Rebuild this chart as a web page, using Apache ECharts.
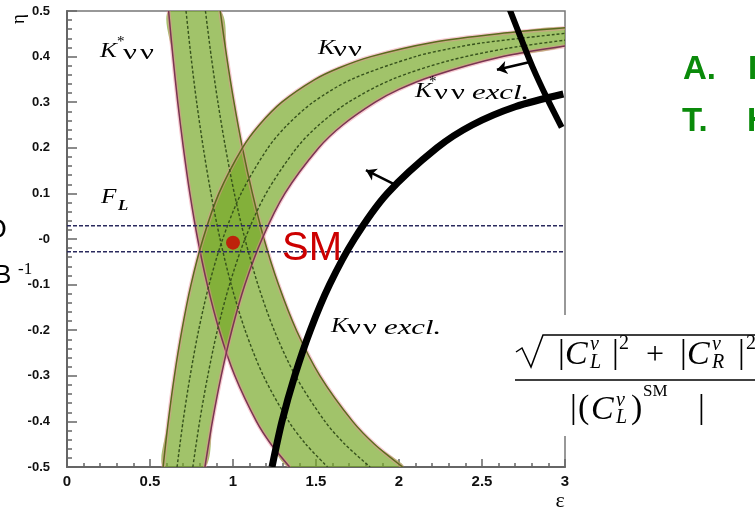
<!DOCTYPE html>
<html>
<head>
<meta charset="utf-8">
<script src="https://cdn.jsdelivr.net/npm/echarts/dist/echarts.min.js"></script>
<style>
  html, body { margin: 0; padding: 0; background: #fff; }
  #chart { width: 755px; height: 510px; }
</style>
</head>
<body>
<div id="chart"></div>
<script>
// ---- data: (epsilon, eta) points ----
// B -> K* nu nu band: outer edges and inner dashed contours
const kstarLeft = [[0.612,0.5],[0.638,0.4],[0.667,0.3],[0.701,0.2],[0.740,0.1],[0.787,0],[0.845,-0.1],[0.917,-0.2],[1.011,-0.3],[1.141,-0.4],[1.229,-0.45],[1.341,-0.5]];
const kstarIn1  = [[0.717,0.5],[0.747,0.4],[0.781,0.3],[0.821,0.2],[0.867,0.1],[0.922,0],[0.989,-0.1],[1.073,-0.2],[1.183,-0.3],[1.336,-0.4],[1.439,-0.45],[1.570,-0.5]];
const kstarIn2  = [[0.834,0.5],[0.869,0.4],[0.909,0.3],[0.955,0.2],[1.008,0.1],[1.072,0],[1.150,-0.1],[1.248,-0.2],[1.376,-0.3],[1.554,-0.4],[1.674,-0.45],[1.826,-0.5]];
const kstarRight= [[0.923,0.5],[0.962,0.4],[1.006,0.3],[1.057,0.2],[1.117,0.1],[1.187,0],[1.274,-0.1],[1.382,-0.2],[1.524,-0.3],[1.721,-0.4],[1.853,-0.45],[2.022,-0.5]];

// B -> K nu nu band
const knnLeft  = [[0.579,-0.5],[0.610,-0.4],[0.647,-0.3],[0.692,-0.2],[0.747,-0.1],[0.819,0],[0.915,0.1],[1.057,0.2],[1.158,0.25],[1.294,0.3],[1.494,0.35],[1.637,0.375],[1.830,0.4],[2.2,0.431],[2.6,0.450],[3.0,0.463]];
const knnIn1   = [[0.663,-0.5],[0.699,-0.4],[0.742,-0.3],[0.793,-0.2],[0.856,-0.1],[0.938,0],[1.049,0.1],[1.211,0.2],[1.327,0.25],[1.483,0.3],[1.713,0.35],[2.098,0.4],[2.3,0.417],[2.5,0.430],[3.0,0.451]];
const knnIn2   = [[0.758,-0.5],[0.799,-0.4],[0.848,-0.3],[0.906,-0.2],[0.979,-0.1],[1.072,0],[1.199,0.1],[1.384,0.2],[1.517,0.25],[1.696,0.3],[1.958,0.35],[2.3,0.391],[2.65,0.418],[3.0,0.436]];
const knnRight = [[0.831,-0.5],[0.876,-0.4],[0.929,-0.3],[0.993,-0.2],[1.072,-0.1],[1.175,0],[1.313,0.1],[1.517,0.2],[1.661,0.25],[1.857,0.3],[2.0,0.328],[2.2,0.357],[2.6,0.398],[3.0,0.423]];

// F_L allowed strip in eta
const flUpper = 0.029;
const flLower = -0.028;

// exclusion bounds
const kExclusion     = [[1.235,-0.5],[1.295,-0.4],[1.372,-0.3],[1.466,-0.2],[1.582,-0.1],[1.731,0],[1.930,0.1],[2.229,0.2],[2.441,0.25],[2.70,0.29],[2.99,0.318]];
const kstarExclusion = [[2.665,0.505],[2.735,0.44],[2.805,0.377],[2.89,0.31],[2.98,0.245]];

// arrows pointing to the allowed side: [from, to]
const arrowKstar = [[2.789,0.388],[2.590,0.371]];
const arrowK     = [[1.994,0.116],[1.801,0.151]];

// Standard Model point
const smPoint = [1.0, -0.008];

// ---- styles ----
const bandFill   = 'rgba(116,167,36,0.68)';
const edgeOlive  = '#5a6a1c';
const edgeMaroon = '#7a3452';
const haloPink   = 'rgba(238,140,155,0.45)';
const dashGreen  = '#36521c';

function curve(points, style, z) {
  return {
    type: 'custom', coordinateSystem: 'cartesian2d', clip: true, silent: true, z: z,
    data: [points[0]],
    renderItem: (params, api) => ({
      type: 'polyline',
      shape: { points: points.map(p => api.coord(p)), smooth: 0.3 },
      style: Object.assign({ fill: null }, style)
    })
  };
}
function band(edgeA, edgeB, z) {
  const outline = edgeA.concat(edgeB.slice().reverse());
  return {
    type: 'custom', coordinateSystem: 'cartesian2d', clip: true, silent: true, z: z,
    data: [outline[0]],
    renderItem: (params, api) => ({
      type: 'polygon',
      shape: { points: outline.map(p => api.coord(p)), smooth: 0.3 },
      style: { fill: bandFill, stroke: null }
    })
  };
}
function edge(points, color, z) {
  return [
    curve(points, { stroke: haloPink, lineWidth: 4 }, z),
    curve(points, { stroke: color, lineWidth: 1.5 }, z)
  ];
}
function dashed(points, z) {
  return curve(points, { stroke: dashGreen, lineWidth: 1.4, lineDash: [3, 2] }, z);
}

// ---- text helpers (pixel placement of annotations) ----
const serif = '"Liberation Serif", "Times New Roman", serif';
const sans = '"Liberation Sans", Arial, sans-serif';
function txt(x, y, s, font, color, align, vAlign, rot, sx) {
  return {
    type: 'text', x: x, y: y, z: 100, rotation: rot || 0, scaleX: sx || 1, silent: true,
    style: {
      text: s, font: font, fill: color || '#000',
      textAlign: align || 'left', textVerticalAlign: vAlign || 'middle',
      align: align || 'left', verticalAlign: vAlign || 'middle'
    }
  };
}
function pline(points, width, color) {
  return { type: 'polyline', z: 100, silent: true, shape: { points: points },
           style: { stroke: color || '#000', lineWidth: width, fill: null } };
}

const kFont = 'italic 22px ' + serif;
const nuFont = '22px ' + serif;
const starFont = '15px ' + serif;
const exclFont = 'italic 22px ' + serif;
const W = 1.4; // horizontal stretch of the label lettering

const graphics = [
  // band labels
  txt(100, 51, 'K', kFont, '#000', 'left', 'middle', 0, 1.15), txt(117, 42, '*', starFont),
  txt(123, 53, 'ν', nuFont, '#000', 'left', 'middle', 0, W), txt(140, 53, 'ν', nuFont, '#000', 'left', 'middle', 0, W),
  txt(318, 48, 'K', kFont, '#000', 'left', 'middle', 0, 1.15),
  txt(333, 50, 'ν', nuFont, '#000', 'left', 'middle', 0, W), txt(348, 50, 'ν', nuFont, '#000', 'left', 'middle', 0, W),
  txt(415, 91, 'K', kFont, '#000', 'left', 'middle', 0, 1.15), txt(429, 82, '*', starFont),
  txt(434, 93, 'ν', nuFont, '#000', 'left', 'middle', 0, W), txt(451, 93, 'ν', nuFont, '#000', 'left', 'middle', 0, W),
  txt(472, 93, 'excl.', exclFont, '#000', 'left', 'middle', 0, W),
  txt(331, 326, 'K', kFont, '#000', 'left', 'middle', 0, 1.15),
  txt(347, 328, 'ν', nuFont, '#000', 'left', 'middle', 0, W), txt(363, 328, 'ν', nuFont, '#000', 'left', 'middle', 0, W),
  txt(384, 328, 'excl.', exclFont, '#000', 'left', 'middle', 0, W),
  txt(101, 197, 'F', 'italic 21px ' + serif, '#000', 'left', 'middle', 0, 1.2),
  txt(118, 206, 'L', 'italic bold 14px ' + serif, '#000', 'left', 'middle', 0, 1.2),
  // SM
  txt(282, 249, 'SM', '40px ' + sans, '#cc0000'),
  // axis titles
  txt(19, 19, 'η', '19px ' + serif, '#000', 'center', 'middle', Math.PI / 2),
  txt(560, 501, 'ε', '22px ' + serif, '#000', 'center', 'middle'),
  // side texts
  txt(683, 70, 'A.', 'bold 33px ' + sans, '#0a8a0a'), txt(748, 70, 'I', 'bold 33px ' + sans, '#0a8a0a'),
  txt(682, 122, 'T.', 'bold 33px ' + sans, '#0a8a0a'), txt(747, 122, 'H', 'bold 33px ' + sans, '#0a8a0a'),
  txt(-15, 230, 'O', '28px ' + sans, '#000'),
  txt(-6, 276, 'B', '26px ' + sans, '#000'), txt(18, 270, '-1', '17px ' + serif, '#000'),
  // ratio formula on a white panel
  { type: 'rect', z: 99, silent: true, shape: { x: 505, y: 315, width: 250, height: 121 }, style: { fill: '#fff' } },
  pline([[516, 352], [522, 348], [531, 367], [543, 335], [755, 335]], 1.5),
  pline([[515, 380], [755, 380]], 1.5),
  txt(558, 354, '|', '34px ' + serif), txt(565, 355, 'C', 'italic 34px ' + serif),
  txt(590, 345, 'ν', 'italic 20px ' + serif), txt(590, 363, 'L', 'italic 20px ' + serif),
  txt(612, 354, '|', '34px ' + serif), txt(619, 344, '2', '20px ' + serif),
  txt(655, 356, '+', '32px ' + serif, '#000', 'center'),
  txt(680, 354, '|', '34px ' + serif), txt(687, 355, 'C', 'italic 34px ' + serif),
  txt(712, 345, 'ν', 'italic 20px ' + serif), txt(712, 363, 'R', 'italic 20px ' + serif),
  txt(738, 354, '|', '34px ' + serif), txt(746, 344, '2', '20px ' + serif),
  txt(570, 409, '|', '34px ' + serif), txt(578, 409, '(', '34px ' + serif),
  txt(591, 410, 'C', 'italic 34px ' + serif),
  txt(616, 401, 'ν', 'italic 20px ' + serif), txt(616, 418, 'L', 'italic 20px ' + serif),
  txt(631, 409, ')', '34px ' + serif), txt(643, 392, 'SM', '17px ' + serif),
  txt(698, 409, '|', '34px ' + serif)
];

const axisGray = '#666';
function yLabel(v) {
  const r = Math.round(v * 10) / 10;
  return r === 0 ? '-0' : r.toFixed(1);
}
function xLabel(v) {
  const r = Math.round(v * 10) / 10;
  return String(r);
}

const series = [
  band(kstarLeft, kstarRight, 1),
  band(knnLeft, knnRight, 2),
  ...edge(kstarLeft, edgeMaroon, 3),
  ...edge(kstarRight, edgeOlive, 3),
  ...edge(knnLeft, edgeOlive, 3),
  ...edge(knnRight, edgeMaroon, 3),
  dashed(kstarIn1, 4), dashed(kstarIn2, 4), dashed(knnIn1, 4), dashed(knnIn2, 4),
  {
    type: 'line', silent: true, z: 5, showSymbol: false, symbol: 'none',
    data: [[0, flUpper], [3, flUpper]],
    lineStyle: { color: '#2a2a5e', width: 1.5, type: [4, 2] }
  },
  {
    type: 'line', silent: true, z: 5, showSymbol: false, symbol: 'none',
    data: [[0, flLower], [3, flLower]],
    lineStyle: { color: '#2a2a5e', width: 1.5, type: [4, 2] }
  },
  curve(kExclusion, { stroke: '#000', lineWidth: 7, lineCap: 'butt' }, 6),
  curve(kstarExclusion, { stroke: '#000', lineWidth: 6, lineCap: 'butt' }, 6),
  {
    type: 'lines', coordinateSystem: 'cartesian2d', silent: true, z: 7,
    symbol: ['none', 'arrow'], symbolSize: 10,
    lineStyle: { color: '#000', width: 2.5, opacity: 1 },
    data: [{ coords: arrowKstar }, { coords: arrowK }]
  },
  {
    type: 'scatter', silent: true, z: 8, symbolSize: 14,
    itemStyle: { color: '#cc0000' },
    data: [smPoint]
  }
];

const chart = echarts.init(document.getElementById('chart'), null, { renderer: 'canvas' });
chart.setOption({
  animation: false,
  backgroundColor: '#fff',
  grid: { left: 67, top: 11, right: 190, bottom: 43, show: true, borderColor: '#777', borderWidth: 1.5, backgroundColor: 'transparent' },
  xAxis: {
    type: 'value', min: 0, max: 3, interval: 0.5,
    axisLine: { onZero: false, lineStyle: { color: axisGray, width: 2 } },
    axisTick: { inside: true, length: 8, lineStyle: { color: axisGray, width: 1.5 } },
    minorTick: { show: true, splitNumber: 5, length: 4, lineStyle: { color: axisGray, width: 1.5 } },
    splitLine: { show: false },
    axisLabel: { margin: 7, formatter: xLabel, color: '#111', fontFamily: sans, fontWeight: 'bold', fontSize: 15 }
  },
  yAxis: {
    type: 'value', min: -0.5, max: 0.5, interval: 0.1,
    axisLine: { onZero: false, lineStyle: { color: axisGray, width: 2 } },
    axisTick: { inside: true, length: 10, lineStyle: { color: axisGray, width: 1.5 } },
    minorTick: { show: true, splitNumber: 5, length: 5, lineStyle: { color: axisGray, width: 1.5 } },
    splitLine: { show: false },
    axisLabel: { margin: 17, formatter: yLabel, color: '#111', fontFamily: sans, fontWeight: 'bold', fontSize: 13 }
  },
  graphic: graphics,
  series: series
});
</script>
</body>
</html>
